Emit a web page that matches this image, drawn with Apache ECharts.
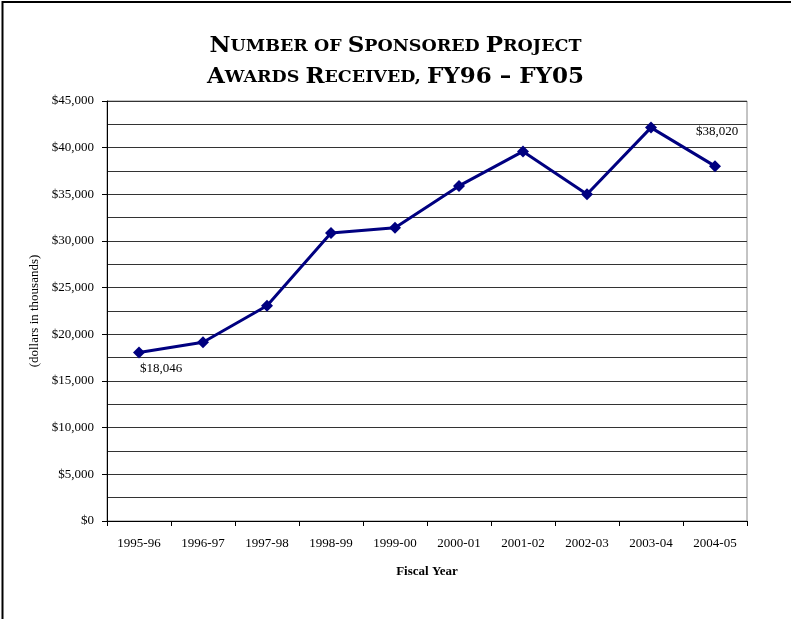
<!DOCTYPE html>
<html><head><meta charset="utf-8">
<script src="https://cdn.jsdelivr.net/npm/echarts@6/dist/echarts.min.js"></script>
<style>html,body{margin:0;padding:0;background:#fff}#c{width:791px;height:619px}</style>
</head><body><div id="c"></div>
<script>
const categories = ['1995-96','1996-97','1997-98','1998-99','1999-00','2000-01','2001-02','2002-03','2003-04','2004-05'];
const awards = [18046, 19150, 23070, 30850, 31420, 35900, 39600, 35000, 42150, 38020];
const labeledIdx = [0, 9];
const yMin = 0, yMax = 45000, yStep = 5000;
const titleLines = [['N','umber',' of ','S','ponsored ','P','roject'], ['A','wards ','R','eceived, ','FY96 – FY05']];

const SERIF = '"Liberation Serif", "DejaVu Serif", serif';
const TSERIF = '"DejaVu Serif", serif';
function smallCaps(parts){
  return parts.map(p=>{
    if (p === 'FY96 – FY05') return '{b|' + p + '}';
    if (p.length === 1 && /[A-Z]/.test(p)) return '{b|' + p + '}';
    return '{s|' + p.toUpperCase() + '}';
  }).join('');
}
const chart = echarts.init(document.getElementById('c'));
chart.setOption({
  animation: false,
  backgroundColor: '#fff',
  title: {
    left: 'center', top: 26,
    text: smallCaps(titleLines[0]) + '\n' + smallCaps(titleLines[1]),
    textStyle: {
      rich: {
        b: {fontFamily: TSERIF, fontWeight: 'bold', fontSize: 23, color: '#000', lineHeight: 31},
        s: {fontFamily: TSERIF, fontWeight: 'bold', fontSize: 17.5, color: '#000', lineHeight: 31}
      }
    }
  },
  graphic: [
    {type:'line', shape:{x1:2.5,y1:1,x2:2.5,y2:619}, style:{stroke:'#000', lineWidth:2}},
    {type:'line', shape:{x1:2,y1:2,x2:791,y2:2}, style:{stroke:'#000', lineWidth:2}}
  ],
  grid: {left: 107, right: 44, top: 101, bottom: 98, show: true, borderColor: '#888', borderWidth: 1},
  xAxis: {
    type: 'category', data: categories, boundaryGap: true,
    name: 'Fiscal Year', nameLocation: 'middle', nameGap: 44,
    nameTextStyle: {fontFamily: SERIF, fontWeight: 'bold', fontSize: 13, color: '#000'},
    axisLine: {lineStyle: {color: '#000', width: 1}},
    axisTick: {show: true, inside: false, length: 5, alignWithLabel: false, lineStyle: {color: '#000'}},
    axisLabel: {fontFamily: SERIF, fontSize: 13, color: '#000', margin: 16, interval: 0},
    splitLine: {show: false}
  },
  yAxis: {
    type: 'value', min: yMin, max: yMax, interval: yStep,
    name: '(dollars in thousands)', nameLocation: 'middle', nameGap: 66, nameRotate: 90,
    nameTextStyle: {fontFamily: SERIF, fontSize: 13, color: '#000'},
    axisLine: {show: true, lineStyle: {color: '#000', width: 1}},
    axisTick: {show: true, inside: false, length: 5, lineStyle: {color: '#000'}},
    axisLabel: {fontFamily: SERIF, fontSize: 13, color: '#000', margin: 13,
      formatter: v => '$' + v.toLocaleString('en-US')},
    splitLine: {show: true, lineStyle: {color: '#333', width: 1}},
    minorTick: {show: false, splitNumber: 2},
    minorSplitLine: {show: true, lineStyle: {color: '#333', width: 1}}
  },
  series: [{
    type: 'line', data: awards.map((v, i) => ({
      value: v,
      label: labeledIdx.includes(i) ? (i === 0
        ? {show: true, position: 'bottom', distance: 4, offset: [22, 0]}
        : {show: true, position: 'top', distance: 22, offset: [2, 0]}) : {show: false}
    })),
    symbol: 'diamond', symbolSize: 12,
    lineStyle: {color: '#000080', width: 3},
    itemStyle: {color: '#000080'},
    label: {fontFamily: SERIF, fontSize: 13, color: '#000',
      formatter: p => '$' + p.value.toLocaleString('en-US')}
  }]
});
</script></body></html>
